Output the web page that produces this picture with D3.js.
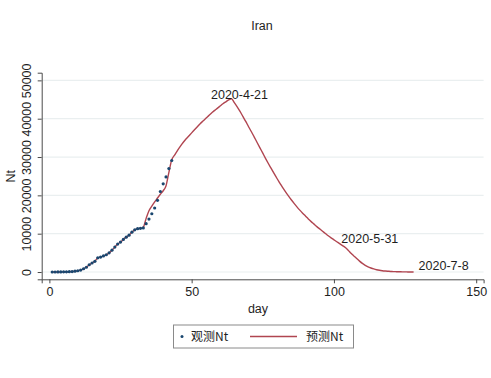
<!DOCTYPE html>
<html>
<head>
<meta charset="utf-8">
<script src="https://cdn.jsdelivr.net/npm/d3@7"></script>
<style>
  html, body { margin: 0; padding: 0; background: #fff; }
  svg { display: block; font-family: "Liberation Sans", Arial, sans-serif; }
</style>
</head>
<body>
<svg id="chart" width="491" height="378"></svg>
<script>
// Observed active cases (day 1 .. 43)
const obsDays = d3.range(1, 44);
const obsValues = [0, 5, 15, 25, 40, 55, 85, 120, 210, 330, 500, 850, 1250, 1900, 2350, 2800,
  3700, 3900, 4200, 4500, 5000, 5700, 6500, 7300, 7800, 8500, 9100, 9600, 10400, 11000,
  11300, 11400, 11500, 12600, 13800, 15200, 16700, 18700, 21000, 23000, 24800, 27000, 29100];

// Model prediction (day 1 .. 128)
const predDays = d3.range(1, 129);
const predValues = [0, 5, 15, 25, 40, 55, 85, 120, 210, 330, 500, 850, 1250, 1900, 2350, 2800,
  3700, 3900, 4200, 4500, 5000, 5700, 6500, 7300, 7800, 8500, 9100, 9600, 10400, 11000,
  11300, 11400, 11700, 14000, 16000, 17200, 18300, 19300, 20300, 21200, 22500, 26000, 29300,
  30500, 31700, 32800, 33800, 34700, 35500, 36300, 37100, 37900, 38700, 39400, 40100, 40800,
  41500, 42100, 42700, 43300, 43900, 44400, 44900, 45200,
  44200, 43100, 41900, 40600, 39300, 37900, 36600, 35200, 33800, 32400, 31000, 29600, 28250,
  26950, 25650, 24400, 23200, 22000, 20900, 19850, 18850, 17900, 17000, 16150, 15350, 14600,
  13850, 13150, 12500, 11850, 11250, 10650, 10050, 9450, 8900, 8400, 7900, 7400, 6900, 6400,
  5700, 4900, 4200, 3500, 2850, 2250, 1750, 1350, 1050, 800, 600, 450, 340, 260, 200, 150,
  110, 80, 60, 45, 30, 20, 10, 5];

// Date labels attached to points on the prediction curve
const markDays = [64, 104, 128];
const markLabels = ["2020-4-21", "2020-5-31", "2020-7-8"];

const xTicks = [0, 50, 100, 150];
const yTicks = [0, 10000, 20000, 30000, 40000, 50000];

const seriesNames = ["观测Nt", "预测Nt"];

const obsColor = "#1a476f";
const predColor = "#b04550";
const gridColor = "#eaeff0";
const axisColor = "#4a4a4a";
const textColor = "#1e1e1e";

const svg = d3.select("#chart");

const x = d3.scaleLinear().domain([-2.7, 152.6]).range([41.7, 483.6]);
const y = d3.scaleLinear().domain([-1900, 52000]).range([279.3, 72.7]);

// Title
svg.append("text")
  .attr("x", 262).attr("y", 30)
  .attr("text-anchor", "middle")
  .attr("font-size", 12.5)
  .attr("fill", textColor)
  .text("Iran");

// Horizontal grid
svg.append("g")
  .selectAll("line")
  .data(yTicks)
  .join("line")
  .attr("x1", x.range()[0]).attr("x2", x.range()[1])
  .attr("y1", d => y(d)).attr("y2", d => y(d))
  .attr("stroke", gridColor)
  .attr("stroke-width", 1.2);

// X axis
const xAxis = svg.append("g")
  .attr("transform", `translate(0,${y.range()[0]})`)
  .call(d3.axisBottom(x).tickValues(xTicks).tickFormat(d3.format("d")).tickSize(4).tickPadding(4));
xAxis.select(".domain").attr("stroke", axisColor);
xAxis.selectAll(".tick line").attr("stroke", axisColor);
xAxis.selectAll(".tick text")
  .attr("font-size", 12.5)
  .attr("font-family", "Liberation Sans, Arial, sans-serif")
  .attr("fill", textColor);

// Y axis with vertical tick labels
const yAxis = svg.append("g")
  .attr("transform", `translate(${x.range()[0]},0)`)
  .call(d3.axisLeft(y).tickValues(yTicks).tickFormat(d3.format("d")).tickSize(4));
yAxis.select(".domain").attr("stroke", axisColor);
yAxis.selectAll(".tick line").attr("stroke", axisColor);
yAxis.selectAll(".tick text")
  .attr("font-size", 12.5)
  .attr("font-family", "Liberation Sans, Arial, sans-serif")
  .attr("fill", textColor)
  .attr("x", 0).attr("dy", 0)
  .attr("text-anchor", "middle")
  .attr("transform", "translate(-11,0) rotate(-90)");

// Axis titles
svg.append("text")
  .attr("x", 258).attr("y", 313)
  .attr("text-anchor", "middle")
  .attr("font-size", 12.5)
  .attr("fill", textColor)
  .text("day");

svg.append("text")
  .attr("transform", `translate(15,${(y(0) + y(50000)) / 2}) rotate(-90)`)
  .attr("text-anchor", "middle")
  .attr("font-size", 12.5)
  .attr("fill", textColor)
  .text("Nt");

// Prediction line
const pred = predDays.map((d, i) => ({ day: d, v: predValues[i] }));
svg.append("path")
  .datum(pred)
  .attr("fill", "none")
  .attr("stroke", predColor)
  .attr("stroke-width", 1.4)
  .attr("stroke-linejoin", "round")
  .attr("d", d3.line().curve(d3.curveMonotoneX).x(d => x(d.day)).y(d => y(d.v)));

// Observed points
const obs = obsDays.map((d, i) => ({ day: d, v: obsValues[i] }));
svg.append("g")
  .selectAll("circle")
  .data(obs)
  .join("circle")
  .attr("cx", d => x(d.day))
  .attr("cy", d => y(d.v))
  .attr("r", 1.6)
  .attr("fill", obsColor);

// Date labels
const labelOffsets = [[8, 0, "middle"], [-4, -4, "start"], [5, -2, "start"]];
svg.append("g")
  .selectAll("text")
  .data(markDays)
  .join("text")
  .attr("x", (d, i) => x(d) + labelOffsets[i][0])
  .attr("y", (d, i) => y(predValues[d - 1]) + labelOffsets[i][1])
  .attr("text-anchor", (d, i) => labelOffsets[i][2])
  .attr("font-size", 12.5)
  .attr("fill", textColor)
  .text((d, i) => markLabels[i]);

// Legend
const lg = svg.append("g");
lg.append("rect")
  .attr("x", 173.5).attr("y", 325)
  .attr("width", 180).attr("height", 23)
  .attr("fill", "#fff")
  .attr("stroke", "#8a8a8a")
  .attr("stroke-width", 1);
lg.append("circle")
  .attr("cx", 182).attr("cy", 336.5).attr("r", 1.5)
  .attr("fill", obsColor);
lg.append("text")
  .attr("x", 191).attr("y", 341)
  .attr("font-size", 12)
  .attr("font-family", "Noto Sans CJK SC, sans-serif")
  .attr("fill", textColor)
  .text(seriesNames[0]);
lg.append("line")
  .attr("x1", 250).attr("x2", 297)
  .attr("y1", 336.5).attr("y2", 336.5)
  .attr("stroke", predColor)
  .attr("stroke-width", 1.3);
lg.append("text")
  .attr("x", 306).attr("y", 341)
  .attr("font-size", 12)
  .attr("font-family", "Noto Sans CJK SC, sans-serif")
  .attr("fill", textColor)
  .text(seriesNames[1]);
</script>
</body>
</html>
